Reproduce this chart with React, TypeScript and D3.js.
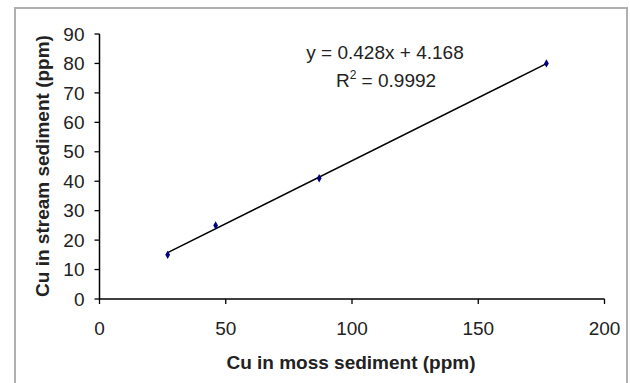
import React from "react";
import * as d3 from "d3";

const mossCu = [27, 46, 87, 177];
const streamCu = [15, 25, 41, 80];
const slope = 0.428;
const intercept = 4.168;
const xTicks = [0, 50, 100, 150, 200];
const yTicks = [0, 10, 20, 30, 40, 50, 60, 70, 80, 90];

const W = 630;
const H = 383;
const FONT = "'Liberation Sans', Arial, sans-serif";
const FS = 19;

export default function App() {
  const x = d3.scaleLinear().domain([0, 200]).range([99.5, 604.5]);
  const y = d3.scaleLinear().domain([0, 90]).range([299, 34]);
  const xMin = d3.min(mossCu) as number;
  const xMax = d3.max(mossCu) as number;
  const line = d3
    .line<number>()
    .x((d) => x(d))
    .y((d) => y(slope * d + intercept));
  const diamond = d3.symbol().type(d3.symbolDiamond).size(20)() as string;

  return (
    <svg
      width={W}
      height={H}
      style={{ position: "absolute", left: 0, top: 0, background: "#fff" }}
      fontFamily={FONT}
    >
      <rect x={15} y={8} width={612} height={390} fill="#fff" stroke="#b0b0b0" strokeWidth={2} />
      {/* axes */}
      <line x1={x(0)} x2={x(0)} y1={y(90)} y2={y(0)} stroke="#000" strokeWidth={1.5} />
      <line x1={x(0)} x2={x(200)} y1={y(0)} y2={y(0)} stroke="#000" strokeWidth={1.5} />
      {yTicks.map((t) => (
        <g key={"y" + t}>
          <line x1={x(0) - 5} x2={x(0)} y1={y(t)} y2={y(t)} stroke="#000" strokeWidth={1.3} />
          <text x={x(0) - 15} y={y(t)} dy="0.35em" textAnchor="end" fontSize={FS} fill="#222">
            {t}
          </text>
        </g>
      ))}
      {xTicks.map((t) => (
        <g key={"x" + t}>
          <line x1={x(t)} x2={x(t)} y1={y(0)} y2={y(0) + 5} stroke="#000" strokeWidth={1.3} />
          <text x={x(t)} y={328} dy="0.35em" textAnchor="middle" fontSize={FS} fill="#222">
            {t}
          </text>
        </g>
      ))}
      {/* trendline */}
      <path d={line([xMin, xMax]) as string} fill="none" stroke="#000" strokeWidth={1.5} />
      {mossCu.map((v, i) => (
        <path
          key={"p" + i}
          d={diamond}
          transform={`translate(${x(v)},${y(streamCu[i])})`}
          fill="#000080"
        />
      ))}
      {/* equation */}
      <text x={385} y={52} dy="0.35em" textAnchor="middle" fontSize={FS} fill="#222">
        y = 0.428x + 4.168
      </text>
      <text x={386} y={80} dy="0.35em" textAnchor="middle" fontSize={FS} fill="#222">
        R<tspan dy="-8" fontSize={12}>2</tspan>
        <tspan dy="8"> = 0.9992</tspan>
      </text>
      {/* axis titles */}
      <text x={351} y={362} dy="0.35em" textAnchor="middle" fontSize={FS} fontWeight="bold" fill="#222">
        Cu in moss sediment (ppm)
      </text>
      <text
        transform={`translate(42,${166}) rotate(-90)`}
        dy="0.35em"
        textAnchor="middle"
        fontSize={FS}
        fontWeight="bold"
        fill="#222"
      >
        Cu in stream sediment (ppm)
      </text>
    </svg>
  );
}
